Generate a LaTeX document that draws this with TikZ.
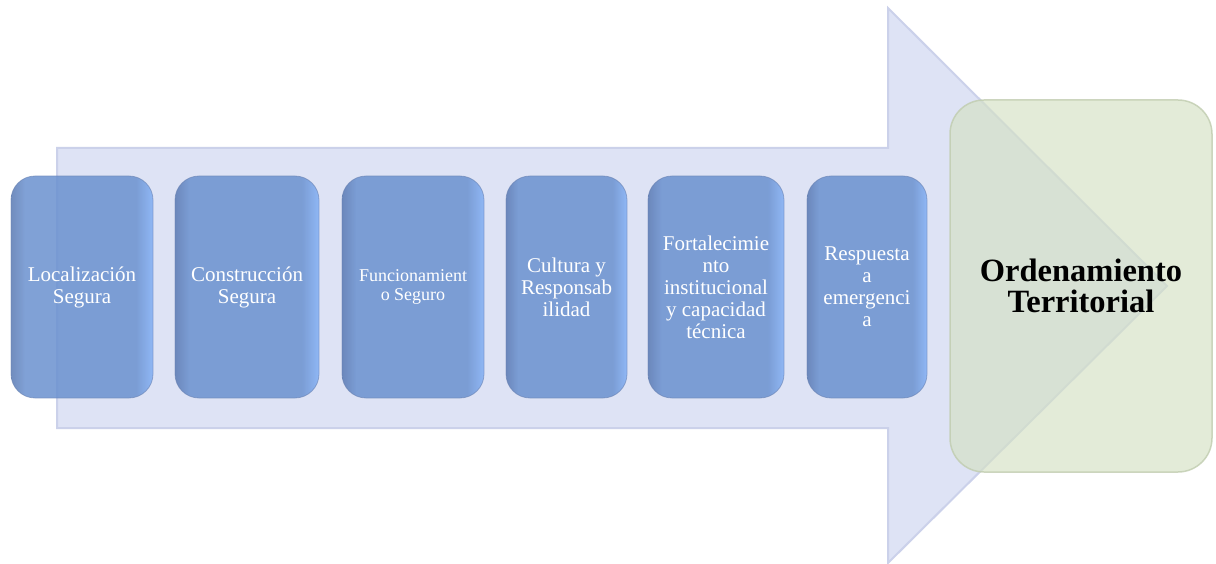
\documentclass[tikz,border=0pt]{standalone}
\usepackage{fontspec}
\setmainfont{Liberation Serif}
\definecolor{arrowfill}{RGB}{222,227,245}
\definecolor{arrowline}{RGB}{203,209,234}
\definecolor{bdk}{RGB}{88,120,178}
\definecolor{bbase}{RGB}{106,145,207}
\definecolor{blt}{RGB}{130,176,246}
\definecolor{bline}{RGB}{105,130,178}
\definecolor{gfill}{RGB}{213,225,197}
\definecolor{gline}{RGB}{192,204,175}
\pgfdeclarehorizontalshading{boxsh}{100bp}{color(0bp)=(bdk); color(25bp)=(bdk); color(30bp)=(bbase); color(69bp)=(bbase); color(75bp)=(blt); color(100bp)=(blt)}
\begin{document}
\begin{tikzpicture}[x=1pt,y=-1pt,
  arrowbody/.style={fill=arrowfill, draw=arrowline, line width=2pt, line join=miter},
  bluebox/.style={rounded corners=24pt, shade, shading=boxsh, fill opacity=0.85, text opacity=1,
    draw=bline, draw opacity=0.6, line width=0.8pt, text=white, align=center,
    font=\fontsize{21}{22}\selectfont, minimum height=222pt, inner sep=2pt},
  greenbox/.style={rounded corners=34pt, fill=gfill, fill opacity=0.67, text opacity=1,
    draw=gline, draw opacity=0.8, line width=1.5pt, align=center,
    font=\bfseries\fontsize{32.5}{31}\selectfont, minimum width=262pt, minimum height=372pt}]
\useasboundingbox (0,0) rectangle (1216,564);
% big arrow
\draw[arrowbody] (57,148) -- (888,148) -- (888,8) -- (1167,286) -- (888,563) -- (888,428) -- (57,428) -- cycle;
% step boxes
\node[bluebox, minimum width=142pt] (b1) at (82,287) {Localización\\Segura};
\node[bluebox, minimum width=144pt] (b2) at (247,287) {Construcción\\Segura};
\node[bluebox, minimum width=142pt, font=\fontsize{18}{19.5}\selectfont] (b3) at (413,287) {Funcionamient\\o Seguro};
\node[bluebox, minimum width=121pt] (b4) at (566.5,287) {Cultura y\\Responsab\\ilidad};
\node[bluebox, minimum width=136pt] (b5) at (716,287) {Fortalecimie\\nto\\institucional\\y capacidad\\técnica};
\node[bluebox, minimum width=120pt] (b6) at (867,287) {Respuesta\\a\\emergenci\\a};
% goal box
\node[greenbox] (goal) at (1081,286) {Ordenamiento\\Territorial};
\end{tikzpicture}
\end{document}
